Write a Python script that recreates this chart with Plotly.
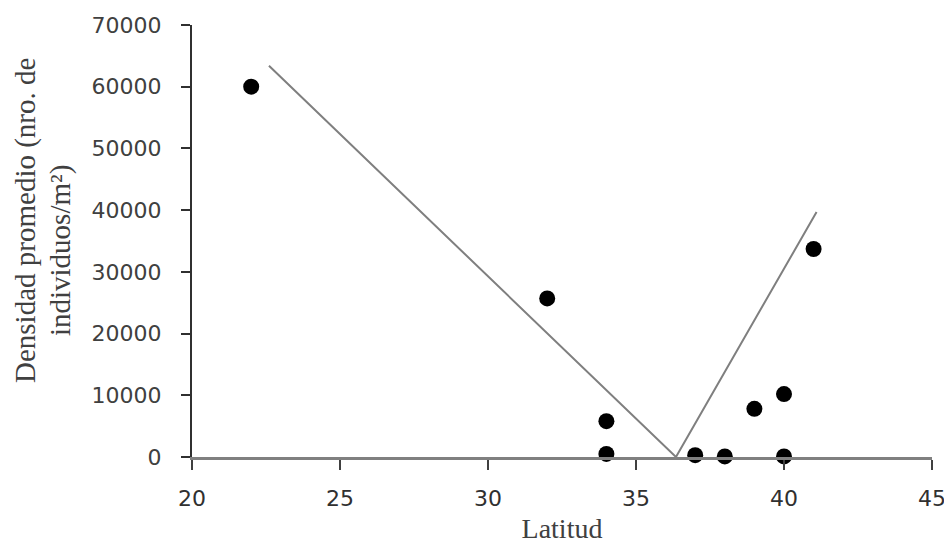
import plotly.graph_objects as go

latitud = [22, 32, 34, 34, 37, 38, 39, 40, 40, 41]
densidad = [60000, 25700, 5800, 500, 300, 100, 7800, 10200, 100, 33700]

fit_x = [22.6, 36.35, 41.1]
fit_y = [63400, 0, 39700]

x_ticks = [20, 25, 30, 35, 40, 45]
y_ticks = [0, 10000, 20000, 30000, 40000, 50000, 60000, 70000]
y_tick_labels = [str(v) for v in y_ticks]

y_title_lines = ["Densidad promedio (nro. de", "individuos/m²)"]

fig = go.Figure()
fig.add_trace(go.Scatter(x=fit_x, y=fit_y, mode="lines",
                         line=dict(color="#7f7f7f", width=2), showlegend=False))
fig.add_trace(go.Scatter(x=latitud, y=densidad, mode="markers",
                         marker=dict(color="black", size=16), showlegend=False,
                         cliponaxis=False))

# y-axis title as two rotated lines, positioned like the reference
title_font = dict(family="Liberation Serif", size=29, color="#404040")
fig.add_annotation(text=y_title_lines[0], xref="paper", yref="paper",
                   x=-0.2257, y=0.5486, xanchor="center", yanchor="middle",
                   textangle=-90, showarrow=False, font=title_font)
fig.add_annotation(text=y_title_lines[1], xref="paper", yref="paper",
                   x=-0.1784, y=0.479, xanchor="center", yanchor="middle",
                   textangle=-90, showarrow=False, font=title_font)

# page body has an 8px margin; the figure is sized to fit the 952x544 window
fig.update_layout(
    width=944, height=536,
    margin=dict(l=184, r=20, t=17, b=87, autoexpand=False),
    plot_bgcolor="white", paper_bgcolor="white",
    xaxis=dict(range=[20, 45], tickvals=x_ticks, ticks="outside", ticklen=10,
               tickcolor="#404040", tickwidth=2,
               showline=True, linecolor="#808080", linewidth=3, showgrid=False,
               zeroline=False, automargin=False, ticklabelstandoff=10,
               tickfont=dict(family="DejaVu Sans", size=22, color="#303030"),
               title=dict(text="Latitud", standoff=16,
                          font=dict(family="Liberation Serif", size=28, color="#404040"))),
    yaxis=dict(range=[0, 70000], tickvals=y_ticks, ticktext=y_tick_labels,
               ticks="outside", ticklen=9,
               tickcolor="#303030", tickwidth=1.5,
               showline=True, linecolor="#303030", linewidth=2, showgrid=False,
               zeroline=False, automargin=False, ticklabelstandoff=15,
               tickfont=dict(family="DejaVu Sans", size=22, color="#404040")),
)

fig.write_html("out.html")
